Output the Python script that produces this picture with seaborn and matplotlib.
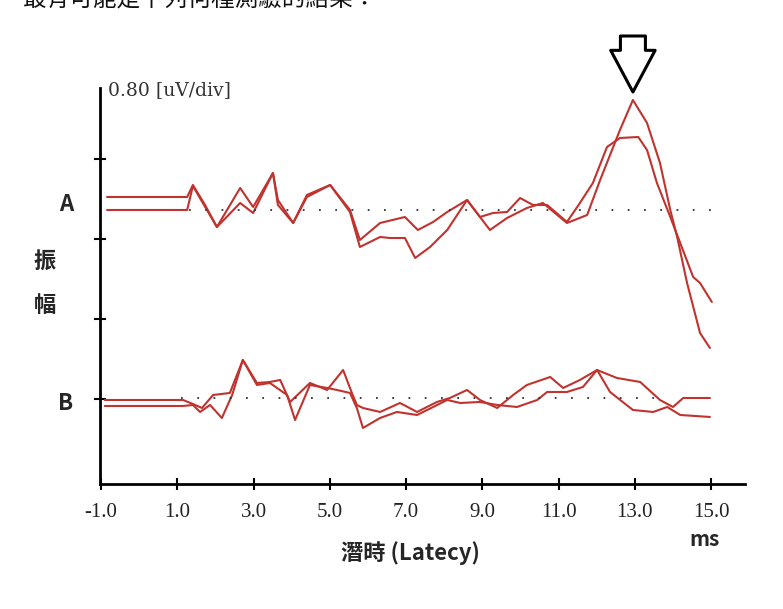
import matplotlib
matplotlib.use('Agg')
import matplotlib.pyplot as plt
import pandas as pd
import seaborn as sns

# two replications per recording (A, B); time in ms, amplitude in uV (display units)
a1_t = [-0.84, 1.26, 1.41, 1.73, 2.04, 2.65, 2.99, 3.51, 3.64, 4.04, 4.40, 5.01, 5.53, 5.79,
        6.32, 6.97, 7.31, 7.71, 8.08, 8.60, 8.94, 9.28, 9.65, 9.99, 10.33, 10.70, 11.22, 11.56,
        11.90, 12.27, 12.61, 13.09, 13.32, 13.58, 13.93, 14.19, 14.53, 14.71, 15.02]
a1_y = [2.87, 2.87, 2.99, 2.79, 2.57, 2.96, 2.77, 3.11, 2.84, 2.61, 2.89, 2.99, 2.74, 2.44,
        2.61, 2.67, 2.54, 2.62, 2.72, 2.84, 2.67, 2.71, 2.72, 2.86, 2.79, 2.79, 2.62, 2.81,
        3.01, 3.37, 3.46, 3.47, 3.34, 3.01, 2.67, 2.41, 2.07, 2.01, 1.82]

a2_t = [-0.84, 1.26, 1.41, 2.04, 2.65, 2.99, 3.51, 3.64, 4.04, 4.40, 5.01, 5.53, 5.79, 6.32,
        6.58, 6.97, 7.24, 7.63, 8.08, 8.60, 9.20, 9.65, 10.17, 10.59, 11.22, 11.75, 12.09,
        12.61, 12.95, 13.32, 13.66, 13.93, 14.11, 14.37, 14.71, 14.97]
a2_y = [2.74, 2.74, 2.98, 2.57, 2.81, 2.71, 3.11, 2.79, 2.61, 2.87, 2.99, 2.72, 2.37, 2.47,
        2.46, 2.46, 2.26, 2.37, 2.54, 2.84, 2.54, 2.66, 2.76, 2.81, 2.61, 2.69, 3.04,
        3.54, 3.84, 3.61, 3.21, 2.74, 2.47, 2.01, 1.51, 1.36]

b1_t = [-0.90, 1.15, 1.41, 1.65, 1.94, 2.38, 2.72, 3.09, 3.43, 3.70, 3.96, 4.48, 4.93, 5.35,
        5.58, 5.71, 5.87, 6.32, 6.84, 7.29, 7.81, 8.15, 8.60, 8.94, 9.39, 9.81, 10.17, 10.78,
        11.12, 11.56, 12.01, 12.53, 13.14, 13.66, 14.00, 14.27, 14.97]
b1_y = [0.84, 0.84, 0.80, 0.76, 0.89, 0.91, 1.24, 1.01, 1.02, 1.04, 0.82, 1.01, 0.94, 1.14,
        0.91, 0.79, 0.76, 0.72, 0.81, 0.72, 0.82, 0.86, 0.94, 0.84, 0.76, 0.89, 0.99, 1.07,
        0.96, 1.04, 1.14, 1.06, 1.02, 0.84, 0.77, 0.86, 0.86]

b2_t = [-0.90, 1.15, 1.41, 1.60, 1.86, 2.17, 2.44, 2.72, 3.09, 3.43, 3.88, 4.09, 4.48, 4.93,
        5.19, 5.53, 5.71, 5.87, 6.32, 6.76, 7.29, 8.08, 8.42, 8.94, 9.39, 9.91, 10.44, 10.70,
        11.22, 11.64, 12.01, 12.35, 12.95, 13.48, 13.85, 14.19, 14.97]
b2_y = [0.78, 0.78, 0.79, 0.72, 0.79, 0.66, 0.89, 1.24, 0.99, 1.01, 0.89, 0.64, 0.99, 0.96,
        0.94, 0.91, 0.76, 0.56, 0.66, 0.72, 0.69, 0.84, 0.81, 0.82, 0.79, 0.77, 0.84, 0.92,
        0.92, 0.97, 1.14, 0.92, 0.74, 0.72, 0.77, 0.69, 0.67]

baseline_a = 2.74
baseline_b = 0.86
y_ticks = [0.85, 1.65, 2.45, 3.25]
x_ticks = [-1, 1, 3, 5, 7, 9, 11, 13, 15]
x_labels = ['-1.0', '1.0', '3.0', '5.0', '7.0', '9.0', '11.0', '13.0', '15.0']

frames = []
for name, t, y in [('A1', a1_t, a1_y), ('A2', a2_t, a2_y), ('B1', b1_t, b1_y), ('B2', b2_t, b2_y)]:
    frames.append(pd.DataFrame({'t': t, 'amp': y, 'trace': name}))
df = pd.concat(frames, ignore_index=True)

sns.set_theme(style='white')
plt.rcParams['font.family'] = ['Noto Sans CJK TC', 'DejaVu Sans']

fig = plt.figure(figsize=(7.83, 6.09), dpi=100)
ax = fig.add_axes([0.1277, 0.2053, 0.8238, 0.6502])

sns.lineplot(data=df, x='t', y='amp', units='trace', estimator=None,
             color='#c0332e', lw=1.5, ax=ax)

# dotted baselines
ax.plot([1.3, 15.0], [baseline_a, baseline_a], color='#333333', lw=1.3, ls=(0, (1, 8)))
ax.plot([1.1, 13.5], [baseline_b, baseline_b], color='#333333', lw=1.3, ls=(0, (1, 8)))

ax.set_xlim(-1.026, 15.89)
ax.set_ylim(0, 3.96)
for s in ['top', 'right']:
    ax.spines[s].set_visible(False)
for s in ['left', 'bottom']:
    ax.spines[s].set_color('black')
    ax.spines[s].set_linewidth(2)

ax.set_xticks(x_ticks)
ax.set_xticklabels(x_labels, family='Liberation Serif', fontsize=15, color='#222222')
ax.set_yticks(y_ticks)
ax.set_yticklabels([])
ax.tick_params(axis='both', direction='inout', length=9, width=1.5, color='black',
               bottom=True, left=True, pad=9)
ax.set_xlabel('')
ax.set_ylabel('')

ax.text(-0.82, 3.94, '0.80 [uV/div]', family='DejaVu Serif', fontsize=13.5,
        color='#333333', va='center', ha='left')

# arrow pointing to the largest peak of A
peak_i = a2_y.index(max(a2_y))
ax.annotate('', xy=(a2_t[peak_i], a2_y[peak_i] + 0.08), xytext=(a2_t[peak_i], 4.48),
            annotation_clip=False,
            arrowprops=dict(arrowstyle='simple,head_length=1.5,head_width=1.6,tail_width=0.9',
                            mutation_scale=20, fc='white', ec='black', lw=2.2, shrinkA=0, shrinkB=0))

fig.text(66 / 783, 1 - 205 / 609, 'A', fontsize=16, fontweight='bold', ha='center', va='center')
fig.text(66 / 783, 1 - 403 / 609, 'B', fontsize=16, fontweight='bold', ha='center', va='center')
fig.text(45 / 783, 1 - 262 / 609, '振', fontsize=16, fontweight='bold', ha='center', va='center')
fig.text(45 / 783, 1 - 305 / 609, '幅', fontsize=16, fontweight='bold', ha='center', va='center')
fig.text(410 / 783, 1 - 553 / 609, '潛時 (Latecy)', fontsize=16, fontweight='bold',
         ha='center', va='center')
fig.text(705 / 783, 1 - 540 / 609, 'ms', fontsize=15, fontweight='bold', ha='center', va='center')
fig.text(23 / 783, 1 - 11 / 609, '最有可能是下列何種測驗的結果：', fontsize=17,
         ha='left', va='bottom', color='#111111')

fig.savefig('out.png', dpi=100, facecolor='white')
